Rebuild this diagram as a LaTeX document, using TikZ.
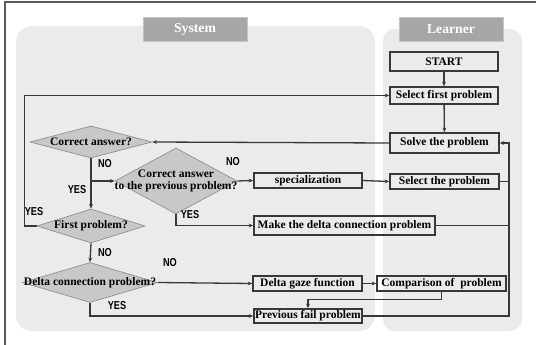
\documentclass[tikz,border=0pt]{standalone}
\usepackage{fontspec}
\setmainfont{Liberation Serif}
\newfontfamily\lblfont[FakeStretch=0.8]{Liberation Sans}
\usetikzlibrary{shapes.geometric,arrows.meta}
\definecolor{panelbg}{HTML}{EBEBEB}
\definecolor{headbg}{HTML}{A6A6A6}
\definecolor{headline}{HTML}{C4C4C4}
\definecolor{diafill}{HTML}{C8C8C8}
\definecolor{dialine}{HTML}{8F8F8F}
\definecolor{ink}{HTML}{383838}
\definecolor{framecol}{HTML}{5A5A5A}
\tikzset{
  panel/.style={fill=panelbg, draw=none},
  header/.style={fill=headbg, draw=headline, line width=0.6pt, inner sep=0pt,
    text=white, font=\fontsize{13.7}{15}\selectfont\bfseries},
  stepbox/.style={draw=ink, line width=1.6pt, inner sep=0pt,
    font=\fontsize{11.5}{13}\selectfont\bfseries},
  decision/.style={diamond, fill=diafill, draw=dialine, line width=0.7pt, inner sep=0pt},
  dtext/.style={font=\fontsize{11.5}{12.5}\selectfont\bfseries, align=center, inner sep=0pt},
  yn/.style={font=\lblfont\fontsize{11.5}{13}\selectfont\bfseries, inner sep=0pt},
  flow/.style={draw=ink, line width=1.3pt},
  arr/.style={flow, -{Stealth[length=4.5pt,width=3.8pt]}},
}
\begin{document}
\begin{tikzpicture}[x=1pt,y=-1pt]
\useasboundingbox (0,0) rectangle (536,345);
\fill[white] (0,0) rectangle (536,345);
% outer frame
\draw[framecol, line width=1.2pt] (5,346) -- (5,2) -- (537,2);

% swimlane panels
\fill[panel, rounded corners=16pt] (16,26) rectangle (375,331);
\fill[panel, rounded corners=12pt] (383,29) rectangle (522,331);
\node[header, minimum width=104pt, minimum height=24pt] (hsys) at (195,29) {System};
\node[header, minimum width=104pt, minimum height=24pt] (hlrn) at (451,29) {Learner};

% learner steps
\node[stepbox, minimum width=108pt, minimum height=19pt] (start) at (444,61.5) {START};
\node[stepbox, minimum width=108pt, minimum height=17pt] (sel1)  at (444,95.5) {Select first problem};
\node[stepbox, minimum width=109pt, minimum height=20pt] (solve) at (444.5,143) {Solve the problem};
\node[stepbox, minimum width=109pt, minimum height=15pt] (selp)  at (444.5,181.5) {Select the problem};
\node[stepbox, minimum width=129pt, minimum height=15pt] (comp)  at (441.5,283.5) {Comparison of\ \ problem};

% system steps
\node[stepbox, minimum width=108pt, minimum height=15pt] (spec)  at (308,180.5) {specialization};
\node[stepbox, minimum width=181pt, minimum height=19pt] (make)  at (344.5,225.5) {Make the delta connection problem};
\node[stepbox, minimum width=109pt, minimum height=15pt] (dgaze) at (307.5,283.5) {Delta gaze function};
\node[stepbox, minimum width=108pt, minimum height=14pt] (prev)  at (308,316) {Previous fail problem};

% decisions
\node[decision, minimum width=122pt, minimum height=32pt] (ca)  at (91,142) {};
\node[dtext] (catext) at (ca) {Correct answer?};
\node[decision, minimum width=122pt, minimum height=66pt] (cap) at (176,181) {};
\node[dtext] (captext) at (cap) {Correct answer\\to the previous problem?};
\node[decision, minimum width=108pt, minimum height=34pt] (fp)  at (91,226) {};
\node[dtext] (fptext) at (fp) {First problem?};
\node[decision, minimum width=135pt, minimum height=40pt] (dcp) at (90,282.5) {};
\node[dtext] (dcptext) at (dcp) {Delta connection problem?};

% connectors
\draw[arr] (start) -- (sel1);
\draw[arr] (sel1) -- (solve);
\draw[arr] (solve.west) -- (ca.east);
\draw[arr] (ca.south) -- (fp.north);
\coordinate (br) at (ca.south |- cap.west);
\draw[arr] (br) -- (cap.west);
\draw[arr] (cap.east) -- (spec.west);
\draw[arr] (spec.east) -- (selp.west);
\draw[arr] (cap.south) |- (make.west);
\draw[arr] (fp.west) -- ++(-12,0) |- (sel1.west);
\draw[arr] (fp.south) -- (dcp.north);
\draw[arr] (dcp.east) -- (dgaze.west);
\draw[arr] (dgaze.east) -- (comp.west);
\draw[arr] (comp.south) -- ++(0,8) -| (prev.north);
\draw[arr] (dcp.south) |- (prev.west);
\coordinate (loop) at (509,316);
\draw[arr] (prev.east) -- (loop) |- (solve.east);
\draw[flow] (selp.east) -- (selp.east -| loop);
\draw[flow] (make.east) -- (make.east -| loop);

% branch labels
\node[yn] (no1)  at (105,164) {NO};
\node[yn] (yes1) at (77,190) {YES};
\node[yn] (no2)  at (233,162) {NO};
\node[yn] (yes2) at (190,215) {YES};
\node[yn] (yes3) at (34,212) {YES};
\node[yn] (no3)  at (105,253) {NO};
\node[yn] (no4)  at (170,263) {NO};
\node[yn] (yes4) at (117,306) {YES};
\end{tikzpicture}
\end{document}
